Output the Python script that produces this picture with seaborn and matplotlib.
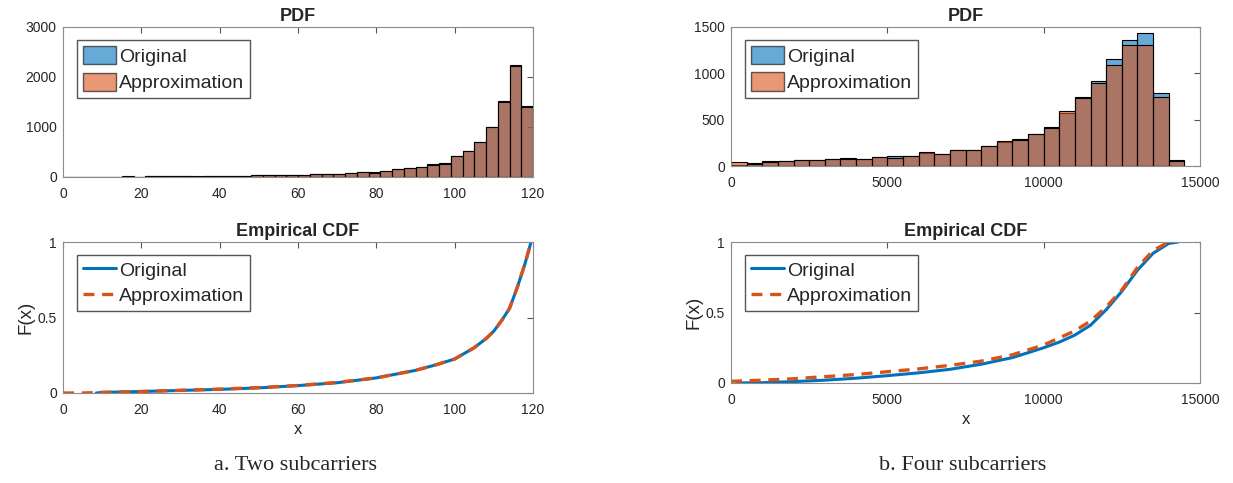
import matplotlib
matplotlib.use("Agg")
import matplotlib.pyplot as plt
from matplotlib.patches import Patch
from matplotlib.lines import Line2D
import pandas as pd
import seaborn as sns

BLUE = "#0072BD"
ORANGE = "#D95319"

# ---- a. two subcarriers: histogram counts, 40 bins of width 3 on [0, 120]
two_edges = list(range(0, 121, 3))
two_orig = [10, 10, 10, 10, 5, 5, 5, 15, 15, 15, 20, 15, 20, 20, 25, 30,
             35, 35, 45, 45, 35, 55, 60, 65, 75, 100, 100, 130, 160, 180,
             210, 260, 280, 420, 520, 700, 1000, 1520, 2240, 1430]
two_appr = [10, 10, 10, 10, 5, 20, 5, 15, 15, 15, 25, 10, 20, 20, 25, 30,
             35, 35, 45, 45, 35, 55, 55, 65, 75, 105, 85, 130, 160, 180,
             210, 250, 270, 415, 520, 700, 1000, 1500, 2220, 1400]

# ---- b. four subcarriers: 29 bins of width 500 on [0, 14500]
four_edges = list(range(0, 14501, 500))
four_orig = [10, 35, 50, 55, 60, 65, 75, 85, 80, 95, 105, 110, 140, 130, 170,
             170, 220, 255, 295, 350, 425, 570, 740, 920, 1160, 1360, 1435, 790, 70]
four_appr = [45, 25, 45, 55, 60, 70, 75, 75, 80, 95, 90, 110, 150, 130, 170,
             170, 220, 265, 280, 345, 415, 590, 735, 895, 1095, 1305, 1310, 745, 55]

# ---- empirical CDF points
two_cdf_x_orig = [8.5, 10, 20, 30, 40, 50, 60, 70, 80, 90, 95, 100, 105, 108,
                  110, 112, 114, 116, 118, 119.5]
two_cdf_y_orig = [0, 0.004, 0.01, 0.017, 0.024, 0.034, 0.049, 0.068, 0.10, 0.15,
                  0.185, 0.225, 0.30, 0.36, 0.41, 0.48, 0.56, 0.70, 0.86, 1.0]
two_cdf_x_appr = [0, 5, 10, 20, 30, 40, 50, 60, 70, 80, 90, 95, 100, 105, 108,
                  110, 112, 114, 116, 118, 119.5]
two_cdf_y_appr = [0, 0, 0.004, 0.01, 0.018, 0.026, 0.036, 0.05, 0.07, 0.10, 0.15,
                  0.185, 0.225, 0.30, 0.36, 0.41, 0.48, 0.56, 0.70, 0.86, 1.0]

four_cdf_x_orig = [200, 1000, 2000, 3000, 4000, 5000, 6000, 7000, 8000, 9000,
                   10000, 10500, 11000, 11500, 12000, 12500, 13000, 13500, 14000, 14300]
four_cdf_y_orig = [0, 0.002, 0.01, 0.02, 0.034, 0.052, 0.072, 0.097, 0.133, 0.18,
                   0.25, 0.29, 0.34, 0.41, 0.52, 0.65, 0.80, 0.92, 0.99, 1.0]
four_cdf_x_appr = [0, 1000, 2000, 3000, 4000, 5000, 6000, 7000, 8000, 9000,
                   10000, 11000, 11500, 12000, 12500, 13000, 13500, 14000]
four_cdf_y_appr = [0.012, 0.02, 0.03, 0.045, 0.06, 0.08, 0.10, 0.125, 0.155, 0.20,
                   0.27, 0.37, 0.44, 0.54, 0.66, 0.82, 0.94, 1.0]

sns.set_style("white")
plt.rcParams["font.family"] = ["Liberation Sans", "DejaVu Sans"]

W, H = 1233, 483
fig = plt.figure(figsize=(W / 100, H / 100), dpi=100)

LEG = dict(loc="upper left", fontsize=14, fancybox=False, edgecolor="#555555",
           framealpha=1, handlelength=1.7, handletextpad=0.15, borderpad=0.3,
           labelspacing=0.35, borderaxespad=0)


def px_axes(x0, x1, ytop, ybot):
    return fig.add_axes([x0 / W, (H - ybot) / H, (x1 - x0) / W, (ybot - ytop) / H])


def matlab_box(ax):
    for s in ax.spines.values():
        s.set_visible(True)
        s.set_color("#8c8c8c")
        s.set_linewidth(0.8)
    ax.tick_params(direction="in", length=4, width=0.8, color="#555555",
                   top=True, right=True, labelsize=10, labelcolor="#262626")
    ax.tick_params(axis="x", pad=7.5)
    ax.tick_params(axis="y", pad=4.5)


def pdf_panel(ax, edges, orig, appr, xmax, yticks, legend_y):
    centers = [(a + b) / 2 for a, b in zip(edges[:-1], edges[1:])]
    df = pd.DataFrame({"x": centers, "orig": orig, "appr": appr})
    sns.histplot(data=df, x="x", weights="orig", bins=edges, color=BLUE, alpha=0.6,
                 edgecolor="black", linewidth=0.8, ax=ax)
    sns.histplot(data=df, x="x", weights="appr", bins=edges, color=ORANGE, alpha=0.6,
                 edgecolor="black", linewidth=0.8, ax=ax)
    ax.set_xlim(0, xmax)
    ax.set_ylim(yticks[0], yticks[-1])
    ax.set_yticks(yticks)
    ax.set_xlabel("")
    ax.set_ylabel("")
    ax.set_title("PDF", fontsize=13, fontweight="bold", pad=4)
    handles = [Patch(facecolor=BLUE, alpha=0.6, edgecolor="black"),
               Patch(facecolor=ORANGE, alpha=0.6, edgecolor="black")]
    ax.legend(handles, ["Original", "Approximation"], bbox_to_anchor=(0.03, legend_y),
              handleheight=1.08, **LEG)
    matlab_box(ax)


def cdf_panel(ax, xo, yo, xa, ya, xmax, xticks, legend_y):
    dash = (0, (3.3, 2.3))
    sns.lineplot(x=xo, y=yo, color=BLUE, linewidth=2.2, ax=ax, sort=False)
    sns.lineplot(x=xa, y=ya, color=ORANGE, linewidth=2.4, ax=ax, sort=False,
                 linestyle=dash)
    ax.set_xlim(0, xmax)
    ax.set_ylim(0, 1)
    ax.set_xticks(xticks)
    ax.set_yticks([0, 0.5, 1])
    ax.set_yticklabels(["0", "0.5", "1"])
    ax.set_title("Empirical CDF", fontsize=13, fontweight="bold", pad=4)
    ax.set_xlabel("x", fontsize=12, color="#262626", labelpad=3)
    ax.set_ylabel("F(x)", fontsize=13.5, color="#262626", labelpad=2)
    handles = [Line2D([], [], color=BLUE, linewidth=2.2),
               Line2D([], [], color=ORANGE, linewidth=2.4, linestyle=dash)]
    ax.legend(handles, ["Original", "Approximation"], bbox_to_anchor=(0.03, legend_y),
              handleheight=0.9, **LEG)
    matlab_box(ax)


ax1 = px_axes(63, 533, 27, 177)
pdf_panel(ax1, two_edges, two_orig, two_appr, 120, [0, 1000, 2000, 3000], 0.913)
ax1.set_xticks(range(0, 121, 20))

ax2 = px_axes(731, 1200, 27, 166)
pdf_panel(ax2, four_edges, four_orig, four_appr, 15000, [0, 500, 1000, 1500], 0.907)
ax2.set_xticks([0, 5000, 10000, 15000])

ax3 = px_axes(63, 533, 242, 393)
cdf_panel(ax3, two_cdf_x_orig, two_cdf_y_orig, two_cdf_x_appr, two_cdf_y_appr,
          120, range(0, 121, 20), 0.914)

ax4 = px_axes(731, 1200, 242, 383)
cdf_panel(ax4, four_cdf_x_orig, four_cdf_y_orig, four_cdf_x_appr, four_cdf_y_appr,
          15000, [0, 5000, 10000, 15000], 0.908)

fig.text(296 / W, 1 - 465 / H, "a. Two subcarriers", ha="center", va="center",
         family="Liberation Serif", fontsize=16)
fig.text(963 / W, 1 - 465 / H, "b. Four subcarriers", ha="center", va="center",
         family="Liberation Serif", fontsize=16)

fig.savefig("out.png", dpi=100)
